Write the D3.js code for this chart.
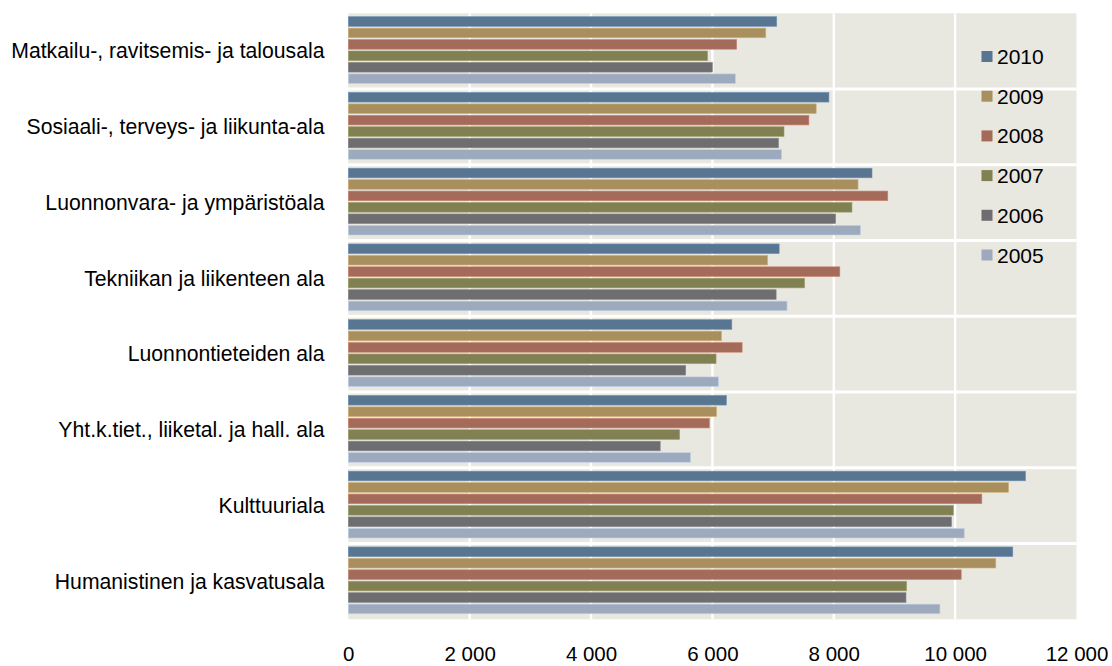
<!DOCTYPE html>
<html>
<head>
<meta charset="utf-8">
<script src="https://cdn.jsdelivr.net/npm/d3@7"></script>
<style>
  html, body { margin: 0; padding: 0; background: #ffffff; }
  svg { display: block; }
  text { font-family: "Liberation Sans", Arial, sans-serif; fill: #000; }
</style>
</head>
<body>
<svg id="chart" width="1112" height="666"></svg>
<script>
const categories = [
  "Matkailu-, ravitsemis- ja talousala",
  "Sosiaali-, terveys- ja liikunta-ala",
  "Luonnonvara- ja ympäristöala",
  "Tekniikan ja liikenteen ala",
  "Luonnontieteiden ala",
  "Yht.k.tiet., liiketal. ja hall. ala",
  "Kulttuuriala",
  "Humanistinen ja kasvatusala"
];
const years = ["2010", "2009", "2008", "2007", "2006", "2005"];
const v2010 = [7060, 7920, 8630, 7100, 6320, 6230, 11160, 10950];
const v2009 = [6880, 7710, 8400, 6910, 6150, 6070, 10880, 10670];
const v2008 = [6400, 7590, 8890, 8100, 6490, 5950, 10440, 10100];
const v2007 = [5920, 7180, 8300, 7520, 6060, 5460, 9970, 9200];
const v2006 = [6000, 7090, 8030, 7050, 5560, 5140, 9940, 9190];
const v2005 = [6380, 7140, 8440, 7230, 6100, 5640, 10150, 9750];
const tickValues = [0, 2000, 4000, 6000, 8000, 10000, 12000];
const tickLabels = ["0", "2 000", "4 000", "6 000", "8 000", "10 000", "12 000"];

const seriesValues = { "2010": v2010, "2009": v2009, "2008": v2008, "2007": v2007, "2006": v2006, "2005": v2005 };
const colors = {
  "2010": "#587592", "2009": "#a98f5e", "2008": "#a46a5a",
  "2007": "#808052", "2006": "#6e6e70", "2005": "#9daabd"
};

const svg = d3.select("#chart");
const pLeft = 348.3, pRight = 1076.5, pTop = 13.3, pBottom = 619.3;

const x = d3.scaleLinear().domain([0, 12000]).range([pLeft, pRight]);
const y0 = d3.scaleBand().domain(categories).range([pTop, pBottom]).padding(0);
const bandH = y0.bandwidth();
const y1 = d3.scaleBand().domain(years).range([3.4, 70.2]).paddingInner(0.16).paddingOuter(0);

// background
svg.append("rect").attr("x", pLeft).attr("y", pTop).attr("width", pRight - pLeft).attr("height", pBottom - pTop)
  .attr("fill", "#e8e7e0");

// vertical gridlines
svg.append("g").selectAll("line").data(tickValues.filter(d => d > 0 && d < 12000)).join("line")
  .attr("x1", d => x(d)).attr("x2", d => x(d))
  .attr("y1", pTop).attr("y2", pBottom)
  .attr("stroke", "#ffffff").attr("stroke-width", 2.4);

// group separators
svg.append("g").selectAll("line").data(categories.slice(1)).join("line")
  .attr("x1", pLeft).attr("x2", pRight)
  .attr("y1", d => y0(d)).attr("y2", d => y0(d))
  .attr("stroke", "#ffffff").attr("stroke-width", 3);

// bars
const groups = svg.append("g").selectAll("g").data(categories).join("g")
  .attr("transform", d => `translate(0,${y0(d)})`);
groups.selectAll("rect").data((c, i) => years.map(yr => ({ yr, v: seriesValues[yr][i] }))).join("rect")
  .attr("x", x(0))
  .attr("y", d => y1(d.yr))
  .attr("width", d => x(d.v) - x(0))
  .attr("height", y1.bandwidth())
  .attr("fill", d => colors[d.yr])
  .attr("stroke", d => d3.color(colors[d.yr]).brighter(0.6))
  .attr("stroke-width", 0.6);

// category labels
svg.append("g").selectAll("text").data(categories).join("text")
  .attr("x", 324.5)
  .attr("y", d => y0(d) + bandH / 2 + 7.2)
  .attr("text-anchor", "end")
  .attr("font-size", 21.2)
  .text(d => d);

// x axis tick labels
const xAxis = d3.axisBottom(x).tickValues(tickValues).tickFormat((d, i) => tickLabels[i]).tickSize(0).tickPadding(0);
const ax = svg.append("g").attr("transform", `translate(0,${pBottom})`).call(xAxis);
ax.select(".domain").remove();
ax.selectAll("text")
  .attr("y", 41.7).attr("dy", null)
  .attr("font-size", 20.5)
  .attr("font-family", "Liberation Sans, Arial, sans-serif")
  .attr("fill", "#000");

// legend
const leg = svg.append("g").selectAll("g").data(years).join("g")
  .attr("transform", (d, i) => `translate(981.5, ${56.5 + i * 39.7})`);
leg.append("rect").attr("x", 0).attr("y", -5.5).attr("width", 11).attr("height", 11)
  .attr("fill", d => colors[d]);
leg.append("text").attr("x", 15.5).attr("y", 7.5).attr("font-size", 21).text(d => d);
</script>
</body>
</html>
